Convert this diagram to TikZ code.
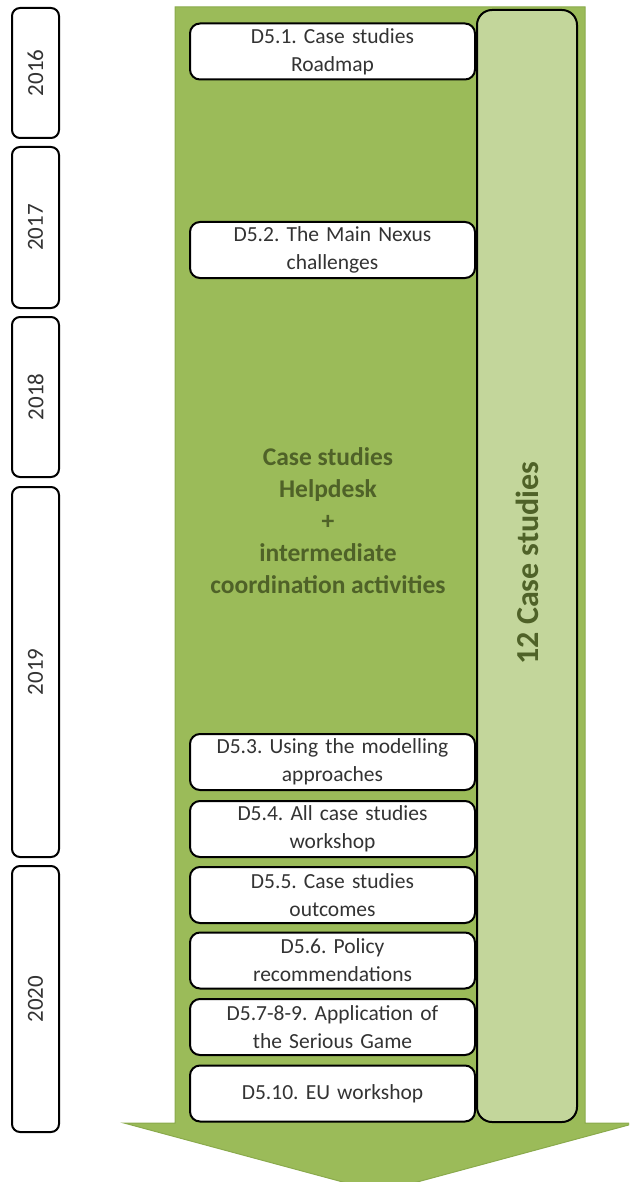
\documentclass[tikz,border=0pt]{standalone}
\usepackage{fontspec}
\setmainfont{Carlito}
\frenchspacing
\usetikzlibrary{positioning}
\definecolor{arrowgreen}{HTML}{9BBB59}
\definecolor{arrowedge}{HTML}{8AAA4C}
\definecolor{colgreen}{HTML}{C3D69B}
\definecolor{darkgreen}{HTML}{4F6228}
\definecolor{boxtext}{HTML}{333333}
\tikzset{
  yearbox/.style={draw=black, line width=2pt, rounded corners=8pt, fill=white, minimum width=47pt, inner sep=0pt, text=boxtext, font=\fontsize{23}{24}\selectfont},
  delbox/.style={draw=black, line width=2pt, rounded corners=10pt, fill=white, minimum width=285pt, minimum height=56pt, inner sep=0pt, text width=282pt, align=center, text=boxtext, font=\fontsize{21.5}{28}\selectfont},
  colbox/.style={draw=black, line width=2pt, rounded corners=15pt, fill=colgreen, minimum width=100pt, minimum height=1112pt, inner sep=0pt},
  midtext/.style={text=darkgreen, align=center, font=\bfseries\fontsize{25.5}{32}\selectfont},
  coltext/.style={text=darkgreen, font=\bfseries\fontsize{32}{36}\selectfont}
}
\begin{document}
\begin{tikzpicture}[x=1pt,y=-1pt]
\useasboundingbox (0,0) rectangle (629,1182);
\clip (0,0) rectangle (629,1182);
% big arrow
\draw[fill=arrowgreen, draw=arrowedge, line width=1pt]
  (175,7) -- (585,7) -- (585,1123) -- (636,1123) -- (380,1192) -- (124,1123) -- (175,1123) -- cycle;
% case studies column
\node[colbox] (col) at (527,566) {};
\node[coltext, rotate=90] (coltxt) at (527,563) {12 Case studies};
% year boxes
\node[yearbox, minimum height=130pt] (y2016) at (35.5,73) {\rotatebox{90}{2016}};
\node[yearbox, minimum height=161pt] (y2017) at (35.5,227.5) {\rotatebox{90}{2017}};
\node[yearbox, minimum height=160pt] (y2018) at (35.5,397) {\rotatebox{90}{2018}};
\node[yearbox, minimum height=370pt] (y2019) at (35.5,672) {\rotatebox{90}{2019}};
\node[yearbox, minimum height=266pt] (y2020) at (35.5,999) {\rotatebox{90}{2020}};
% deliverables
\node[delbox] (d1) at (332.5,51.5) {D5.1. Case studies\\Roadmap};
\node[delbox] (d2) at (332.5,250) {D5.2. The Main Nexus\\challenges};
\node[delbox] (d3) at (332.5,762) {D5.3. Using the modelling\\approaches};
\node[delbox] (d4) at (332.5,829) {D5.4. All case studies\\workshop};
\node[delbox] (d5) at (332.5,895) {D5.5. Case studies\\outcomes};
\node[delbox] (d6) at (332.5,960.5) {D5.6. Policy\\recommendations};
\node[delbox] (d7) at (332.5,1027) {D5.7-8-9. Application of\\the Serious Game};
\node[delbox] (d10) at (332.5,1093.5) {D5.10. EU workshop};
% middle text
\node[midtext] (mid) at (328,521) {Case studies\\Helpdesk\\+\\intermediate\\coordination activities};
\end{tikzpicture}
\end{document}
